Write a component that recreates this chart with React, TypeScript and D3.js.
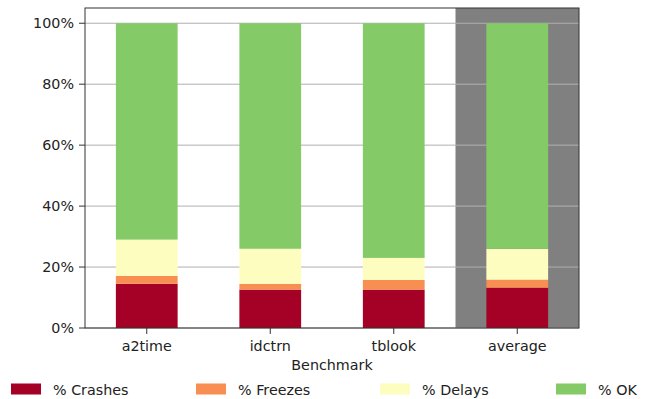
import React from "react";
import * as d3 from "d3";

const categories = ["a2time", "idctrn", "tblook", "average"];
const seriesNames = ["% Crashes", "% Freezes", "% Delays", "% OK"];
const crashes = [14.5, 12.6, 12.6, 13.2];
const freezes = [2.6, 1.9, 3.2, 2.6];
const delays = [11.9, 11.5, 7.2, 10.2];
const ok = [71.0, 74.0, 77.0, 74.0];
const yTicks = [0, 20, 40, 60, 80, 100];
const colors = ["#a50026", "#f98e52", "#fdfdbf", "#84ca66"];

const W = 649;
const H = 399;
const left = 85;
const right = 579;
const top = 8;
const bottom = 328;
const font = "DejaVu Sans, sans-serif";
const fs = 14.3;

export default function App() {
  const series = [crashes, freezes, delays, ok];
  const x = d3.scaleLinear().domain([-0.5, categories.length - 0.5]).range([left, right]);
  const y = d3.scaleLinear().domain([0, 105]).range([bottom, top]);
  const bw = x(0.25) - x(-0.25);
  const legendX = [11, 196, 380, 556];

  return (
    <svg width={W} height={H} style={{ position: "absolute", left: 0, top: 0 }}>
      <rect x={0} y={0} width={W} height={H} fill="#fff" />
      <rect x={x(2.5)} y={top} width={right - x(2.5)} height={bottom - top} fill="#808080" />
      {yTicks.map((t) => (
        <line key={t} x1={left} x2={right} y1={y(t)} y2={y(t)} stroke="#b0b0b0" strokeWidth={1} />
      ))}
      {categories.map((c, i) => {
        let acc = 0;
        return (
          <g key={c}>
            {series.map((s, k) => {
              const y0 = acc;
              acc += s[i];
              return (
                <rect
                  key={k}
                  x={x(i) - bw / 2}
                  y={y(acc)}
                  width={bw}
                  height={y(y0) - y(acc)}
                  fill={colors[k]}
                />
              );
            })}
          </g>
        );
      })}
      <rect x={left} y={top} width={right - left} height={bottom - top} fill="none" stroke="#333" strokeWidth={1} />
      {yTicks.map((t) => (
        <g key={t}>
          <line x1={left - 6} x2={left} y1={y(t)} y2={y(t)} stroke="#333" />
          <text x={left - 11} y={y(t)} dy="0.36em" textAnchor="end" fontFamily={font} fontSize={fs} fill="#222">
            {t}%
          </text>
        </g>
      ))}
      {categories.map((c, i) => (
        <g key={c}>
          <line x1={x(i)} x2={x(i)} y1={bottom} y2={bottom + 6} stroke="#333" />
          <text x={x(i)} y={bottom + 23} textAnchor="middle" fontFamily={font} fontSize={fs} fill="#222">
            {c}
          </text>
        </g>
      ))}
      <text x={(left + right) / 2} y={bottom + 42} textAnchor="middle" fontFamily={font} fontSize={fs} fill="#222">
        Benchmark
      </text>
      {seriesNames.map((n, k) => (
        <g key={n}>
          <rect x={legendX[k]} y={383.5} width={30} height={11} fill={colors[k]} />
          <text x={legendX[k] + 42} y={394.5} fontFamily={font} fontSize={fs} fill="#222">
            {n}
          </text>
        </g>
      ))}
    </svg>
  );
}
